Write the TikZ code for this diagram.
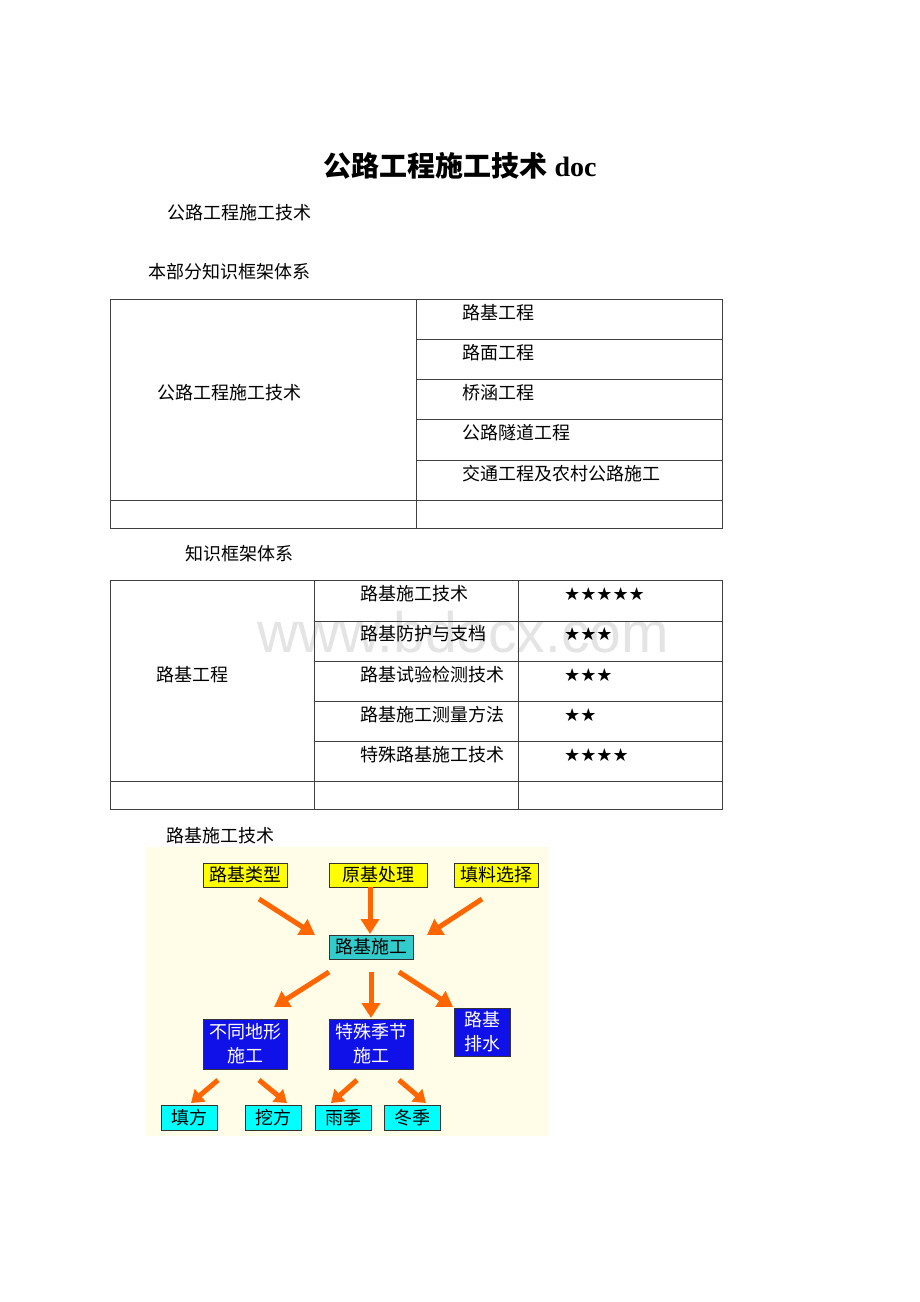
\documentclass[tikz,border=0pt]{standalone}
\usepackage{fontspec}
\setmainfont{Liberation Serif}
\newfontfamily\cjk{Noto Sans CJK SC}
\newfontfamily\symfont{DejaVu Sans}
\newfontfamily\wmfont{Liberation Sans}
\usetikzlibrary{arrows.meta}
\definecolor{bgyel}{RGB}{255,253,232}
\definecolor{boxyel}{RGB}{255,255,0}
\definecolor{boxteal}{RGB}{51,204,204}
\definecolor{boxblue}{RGB}{16,16,232}
\definecolor{boxcyan}{RGB}{0,255,255}
\definecolor{arrorange}{RGB}{255,102,0}
\definecolor{wmgray}{RGB}{228,228,228}
\tikzset{
  txt/.style={font=\cjk\fontsize{18}{22}\selectfont, anchor=west, inner sep=0pt},
  stars/.style={font=\symfont\fontsize{18}{22}\selectfont, anchor=west, inner sep=0pt},
  tbl/.style={draw=black!75, line width=1pt},
  fbox/.style={draw=black!80, line width=1pt, inner sep=0pt, font=\cjk\fontsize{18}{24}\selectfont, align=center},
  bigarr/.style={draw=arrorange, line width=5pt, -{Triangle[length=15pt,width=18pt]}},
  smallarr/.style={draw=arrorange, line width=5pt, -{Triangle[length=12pt,width=16pt]}}
}
\begin{document}
\begin{tikzpicture}[x=1pt,y=-1pt]
\useasboundingbox[fill=white] (0,0) rectangle (920,1302);

% title and headings
\node[font=\fontsize{28}{32}\selectfont, inner sep=0pt] (title) at (460,166) {{\cjk\bfseries 公路工程施工技术} {\bfseries doc}};
\node[txt] (sub) at (167,213) {公路工程施工技术};
\node[txt] (h1) at (148,272) {本部分知识框架体系};

% watermark
\node[font=\wmfont\fontsize{57}{60}\selectfont, text=wmgray, anchor=base west, inner sep=0pt] (wm) at (257,652) {www.bdocx.com};

% table 1
\draw[tbl] (110,299) rectangle (722,528);
\draw[tbl] (416,299) -- (416,528);
\draw[tbl] (416,339) -- (722,339);
\draw[tbl] (416,379) -- (722,379);
\draw[tbl] (416,419) -- (722,419);
\draw[tbl] (416,460) -- (722,460);
\draw[tbl] (110,500) -- (722,500);
\node[txt] (t1a) at (157,393) {公路工程施工技术};
\node[txt] (t1b) at (462,313) {路基工程};
\node[txt] (t1c) at (462,353) {路面工程};
\node[txt] (t1d) at (462,393) {桥涵工程};
\node[txt] (t1e) at (462,433) {公路隧道工程};
\node[txt] (t1f) at (462,474) {交通工程及农村公路施工};

\node[txt] (h2) at (185,554) {知识框架体系};

% table 2
\draw[tbl] (110,580) rectangle (722,809);
\draw[tbl] (314,580) -- (314,809);
\draw[tbl] (518,580) -- (518,809);
\draw[tbl] (314,621) -- (722,621);
\draw[tbl] (314,661) -- (722,661);
\draw[tbl] (314,701) -- (722,701);
\draw[tbl] (314,741) -- (722,741);
\draw[tbl] (110,781) -- (722,781);
\node[txt] (t2a) at (156,675) {路基工程};
\node[txt] (t2b) at (360,594) {路基施工技术};
\node[txt] (t2c) at (360,634) {路基防护与支档};
\node[txt] (t2d) at (360,675) {路基试验检测技术};
\node[txt] (t2e) at (360,715) {路基施工测量方法};
\node[txt] (t2f) at (360,755) {特殊路基施工技术};
\node[stars] (s1) at (564,594) {★★★★★};
\node[stars] (s2) at (564,634) {★★★};
\node[stars] (s3) at (564,675) {★★★};
\node[stars] (s4) at (564,715) {★★};
\node[stars] (s5) at (564,755) {★★★★};

\node[txt] (h3) at (166,836) {路基施工技术};

% diagram
\fill[bgyel] (146,847) rectangle (549,1136);
\node[fbox, fill=boxyel, minimum width=84pt, minimum height=24pt] (n1) at (245,875) {路基类型};
\node[fbox, fill=boxyel, minimum width=98pt, minimum height=24pt] (n2) at (378,875) {原基处理};
\node[fbox, fill=boxyel, minimum width=84pt, minimum height=24pt] (n3) at (496,875) {填料选择};
\node[fbox, fill=boxteal, minimum width=84pt, minimum height=24pt] (n4) at (371,947) {路基施工};
\node[fbox, fill=boxblue, text=white, minimum width=84pt, minimum height=50pt] (n5) at (245,1044) {不同地形\\施工};
\node[fbox, fill=boxblue, text=white, minimum width=84pt, minimum height=50pt] (n6) at (371,1044) {特殊季节\\施工};
\node[fbox, fill=boxblue, text=white, minimum width=56pt, minimum height=48pt] (n7) at (482,1032) {路基\\排水};
\node[fbox, fill=boxcyan, minimum width=56pt, minimum height=25pt] (n8) at (189,1117.5) {填方};
\node[fbox, fill=boxcyan, minimum width=56pt, minimum height=25pt] (n9) at (273,1117.5) {挖方};
\node[fbox, fill=boxcyan, minimum width=56pt, minimum height=25pt] (n10) at (343,1117.5) {雨季};
\node[fbox, fill=boxcyan, minimum width=56pt, minimum height=25pt] (n11) at (412,1117.5) {冬季};

% arrow end points
\coordinate (a1s) at (259,899); \coordinate (a1e) at (315,935);
\coordinate (a2s) at (370,887); \coordinate (a2e) at (370,934);
\coordinate (a3s) at (482,899); \coordinate (a3e) at (427,935);
\coordinate (a4s) at (329,972); \coordinate (a4e) at (274,1007);
\coordinate (a5s) at (371,972); \coordinate (a5e) at (371,1018);
\coordinate (a6s) at (399,972); \coordinate (a6e) at (453,1007);
\coordinate (a7s) at (218,1080); \coordinate (a7e) at (191,1103);
\coordinate (a8s) at (259,1080); \coordinate (a8e) at (287,1103);
\coordinate (a9s) at (357,1080); \coordinate (a9e) at (331,1103);
\coordinate (a10s) at (399,1080); \coordinate (a10e) at (426,1103);

\draw[bigarr] (a1s) -- (a1e);
\draw[bigarr] (a2s) -- (a2e);
\draw[bigarr] (a3s) -- (a3e);
\draw[bigarr] (a4s) -- (a4e);
\draw[bigarr] (a5s) -- (a5e);
\draw[bigarr] (a6s) -- (a6e);
\draw[smallarr] (a7s) -- (a7e);
\draw[smallarr] (a8s) -- (a8e);
\draw[smallarr] (a9s) -- (a9e);
\draw[smallarr] (a10s) -- (a10e);
\end{tikzpicture}
\end{document}
